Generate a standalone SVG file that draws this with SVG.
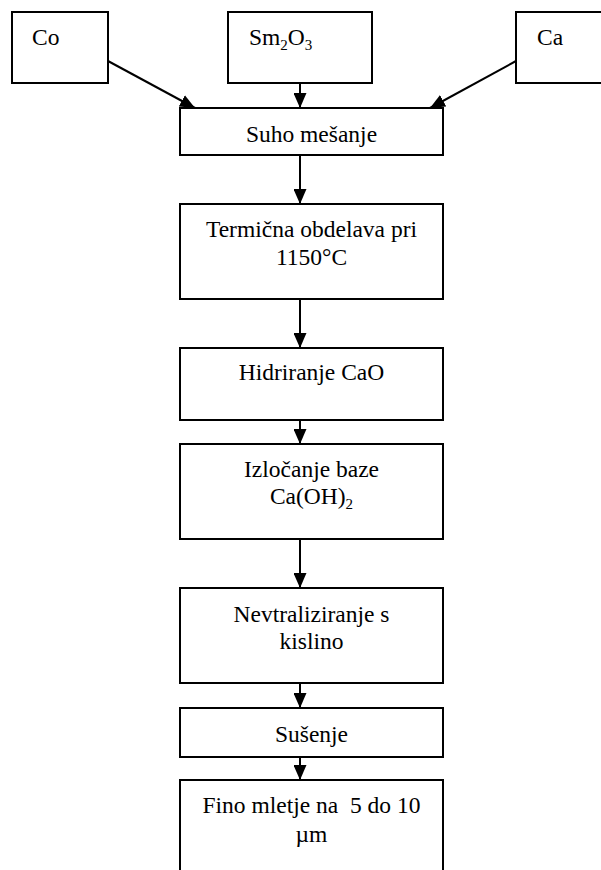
<svg xmlns="http://www.w3.org/2000/svg" width="601" height="870" viewBox="0 0 601 870">
<style>
  .box { fill: #fff; stroke: #000; stroke-width: 2; }
  .lbl { font-family: "Liberation Serif", "Times New Roman", serif; font-size: 23.5px; fill: #000; white-space: pre; }
  .c { text-anchor: middle; }
  .sub { font-size: 15px; }
  .conn { stroke: #000; stroke-width: 2; fill: none; marker-end: url(#ah); }
</style>
<defs>
  <marker id="ah" viewBox="0 0 15 13" refX="15" refY="6.5" markerWidth="15" markerHeight="13" markerUnits="userSpaceOnUse" orient="auto">
    <path d="M0,0 L15,6.5 L0,13 z" fill="#000"/>
  </marker>
</defs>
<rect width="601" height="870" fill="#fff"/>
<g id="connectors">
  <line class="conn" x1="108" y1="61" x2="195" y2="108"/>
  <line class="conn" x1="300" y1="83" x2="300" y2="108"/>
  <line class="conn" x1="516" y1="61" x2="430" y2="108"/>
  <line class="conn" x1="300" y1="155" x2="300" y2="204"/>
  <line class="conn" x1="300" y1="299" x2="300" y2="348"/>
  <line class="conn" x1="300" y1="420" x2="300" y2="444"/>
  <line class="conn" x1="300" y1="539" x2="300" y2="588"/>
  <line class="conn" x1="300" y1="683" x2="300" y2="708"/>
  <line class="conn" x1="300" y1="757" x2="300" y2="780"/>
</g>
<g id="co">
  <rect class="box" x="12" y="12" width="96" height="71"/>
  <text class="lbl" x="32" y="45">Co</text>
</g>
<g id="sm2o3">
  <rect class="box" x="228" y="12" width="144" height="71"/>
  <text class="lbl" x="249" y="45">Sm<tspan class="sub" dy="5">2</tspan><tspan dy="-5">O</tspan><tspan class="sub" dy="5">3</tspan></text>
</g>
<g id="ca">
  <rect class="box" x="516" y="12" width="100" height="71"/>
  <text class="lbl" x="537" y="45">Ca</text>
</g>
<g id="suho">
  <rect class="box" x="180" y="108" width="263" height="47"/>
  <text class="lbl c" x="311.5" y="142">Suho mešanje</text>
</g>
<g id="termicna">
  <rect class="box" x="180" y="204" width="263" height="95"/>
  <text class="lbl c" x="311.5" y="237">Termična obdelava pri</text>
  <text class="lbl c" x="311.5" y="265">1150°C</text>
</g>
<g id="hidriranje">
  <rect class="box" x="180" y="348" width="263" height="72"/>
  <text class="lbl c" x="311.5" y="380">Hidriranje CaO</text>
</g>
<g id="izlocanje">
  <rect class="box" x="180" y="444" width="263" height="95"/>
  <text class="lbl c" x="311.5" y="477">Izločanje baze</text>
  <text class="lbl c" x="311.5" y="504">Ca(OH)<tspan class="sub" dy="5">2</tspan></text>
</g>
<g id="nevtraliziranje">
  <rect class="box" x="180" y="588" width="263" height="95"/>
  <text class="lbl c" x="311.5" y="622">Nevtraliziranje s</text>
  <text class="lbl c" x="311.5" y="649">kislino</text>
</g>
<g id="susenje">
  <rect class="box" x="180" y="708" width="263" height="49"/>
  <text class="lbl c" x="311.5" y="742">Sušenje</text>
</g>
<g id="fino">
  <rect class="box" x="180" y="780" width="263" height="110"/>
  <text class="lbl c" x="311.5" y="813">Fino mletje na  5 do 10</text>
  <text class="lbl c" x="311.5" y="842">µm</text>
</g>
</svg>
